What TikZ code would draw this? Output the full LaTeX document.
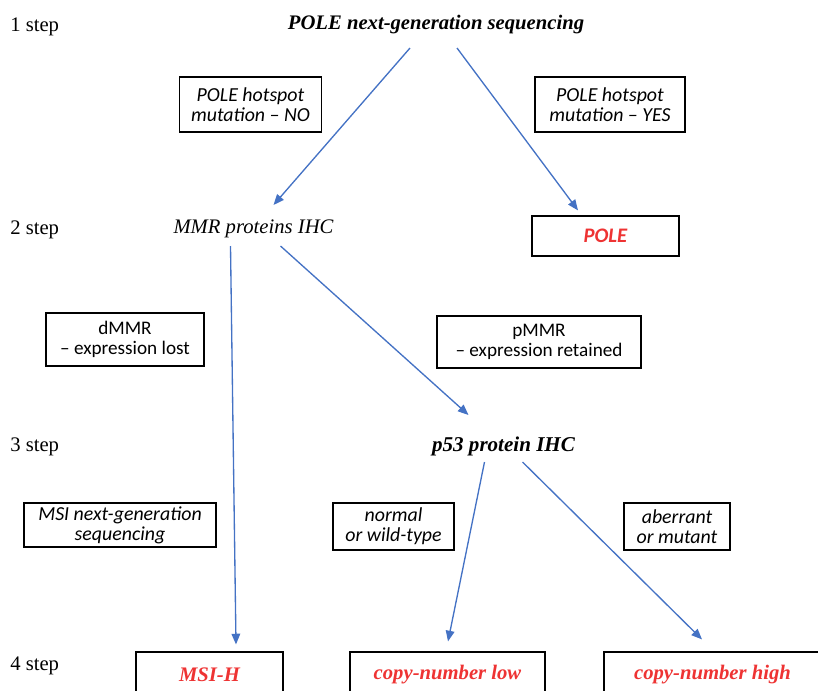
\documentclass[tikz,border=0pt]{standalone}
\usepackage{fontspec}
\setmainfont{Liberation Serif}
\newfontfamily\calibri{Carlito}
\usetikzlibrary{arrows.meta,calc}
\definecolor{Flow}{HTML}{4472C4}
\definecolor{Hit}{HTML}{EE3333}
\begin{document}
\begin{tikzpicture}[x=0.75pt,y=-0.75pt,>={Triangle[length=8pt,width=6.5pt]},
 font=\fontsize{15.5}{18}\selectfont,
 steplbl/.style={anchor=west,inner sep=0pt},
 test/.style={inner sep=0pt,font=\fontsize{15.5}{18}\selectfont\itshape},
 keytest/.style={inner sep=0pt,font=\fontsize{15.5}{18}\selectfont\bfseries\itshape},
 cond/.style={draw,line width=0.9pt,align=center,inner sep=0pt,font=\calibri\fontsize{14.4}{15}\selectfont},
 slant/.style={font=\calibri\fontsize{14.9}{15}\selectfont\itshape},
 result/.style={draw,line width=0.9pt,inner sep=0pt,text=Hit,font=\fontsize{15.5}{18}\selectfont\bfseries\itshape},
 wh/.style 2 args={minimum width=#1*0.75pt,minimum height=#2*0.75pt},
 flow/.style={->,line width=1pt,draw=Flow}]
 \useasboundingbox (0,0) rectangle (818,690);
 % steps
 \node[steplbl] (s1) at (10,27) {1 step};
 \node[steplbl] (s2) at (10,230) {2 step};
 \node[steplbl] (s3) at (10,447) {3 step};
 \node[steplbl] (s4) at (10,666) {4 step};
 % tests
 \node[keytest] (top) at (436,25) {POLE next-generation sequencing};
 \node[test] (mmr) at (253.5,229) {MMR proteins IHC};
 \node[keytest,font=\fontsize{15.8}{18}\selectfont\bfseries\itshape] (p53) at (503.5,446) {p53 protein IHC};
 % conditions
 \node[cond,slant,wh={142}{55}] (no) at (250.5,104.5) {POLE hotspot\\mutation – NO};
 \node[cond,slant,wh={150}{55}] (yes) at (610,104.5) {POLE hotspot\\mutation – YES};
 \node[cond,wh={158}{53}] (dmmr) at (125,339.5) {dMMR\\– expression lost};
 \node[cond,wh={204}{52}] (pmmr) at (539,342) {pMMR\\– expression retained};
 \node[cond,slant,wh={192}{44}] (msi) at (120,525) {MSI next-generation\\sequencing};
 \node[cond,slant,wh={121}{47}] (wild) at (393.5,526.5) {normal\\or wild-type};
 \node[cond,slant,wh={106}{47}] (mut) at (677,526.5) {aberrant\\or mutant};
 % results
 \node[result,font=\calibri\fontsize{15.5}{18}\selectfont\bfseries\itshape,wh={147}{40}] (pole) at (605.5,236) {POLE};
 \node[result,wh={147}{46}] (msih) at (209.5,675) {MSI-H};
 \node[result,wh={195}{46}] (cnlow) at (447.5,675) {copy-number low};
 \node[result,wh={217}{46}] (cnhigh) at (712.5,675) {copy-number high};
 % flows
 \draw[flow] ($(top)+(-26,23)$) -- ($(mmr)+(20,-24)$);
 \draw[flow] ($(top)+(21,23)$) -- ($(pole.north)+(-27.5,-5)$);
 \draw[flow] ($(mmr)+(-23,17)$) -- ($(msih.north)+(26.5,-7)$);
 \draw[flow] ($(mmr)+(27,17)$) -- ($(p53)+(-35,-31)$);
 \draw[flow] ($(p53)+(-19,16)$) -- ($(cnlow.north)+(0.5,-10)$);
 \draw[flow] ($(p53)+(19,16)$) -- ($(cnhigh.north)+(-10.5,-12)$);
\end{tikzpicture}
\end{document}
